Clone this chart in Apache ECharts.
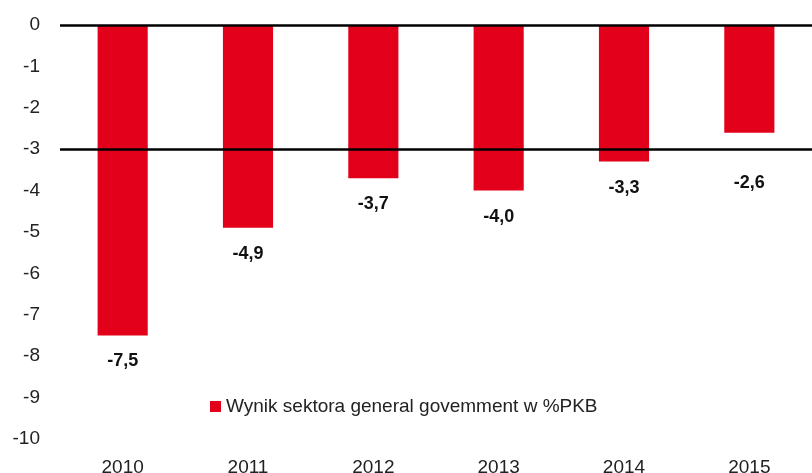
<!DOCTYPE html>
<html><head><meta charset="utf-8">
<script src="https://cdn.jsdelivr.net/npm/echarts@6/dist/echarts.min.js"></script>
<style>html,body{margin:0;padding:0;background:#fff}#c{width:812px;height:473px}</style>
</head><body><div id="c"></div>
<script>
const categories = ['2010','2011','2012','2013','2014','2015'];
const values = [-7.5, -4.9, -3.7, -4.0, -3.3, -2.6];
const seriesName = 'Wynik sektora general govemment w %PKB';
const refLines = [0, -3];

const font = 'Liberation Sans, Arial, sans-serif';
const chart = echarts.init(document.getElementById('c'));
chart.setOption({
  animation: false,
  backgroundColor: '#fff',
  grid: {left: 60, right: 0, top: 25, bottom: 34, outerBoundsMode: 'none', containLabel: false},
  legend: {
    left: 210, top: 397, padding: 0, icon: 'rect', itemWidth: 11, itemHeight: 11,
    textStyle: {fontFamily: font, fontSize: 19, color: '#222'},
    data: [seriesName]
  },
  xAxis: {
    type: 'category', data: categories,
    axisLine: {show: false}, axisTick: {show: false},
    axisLabel: {fontFamily: font, fontSize: 19, color: '#222', margin: 19}
  },
  yAxis: {
    type: 'value', min: -10, max: 0, interval: 1,
    splitLine: {show: false}, axisLine: {show: false}, axisTick: {show: false},
    axisLabel: {fontFamily: font, fontSize: 19, color: '#222', margin: 20}
  },
  series: [{
    name: seriesName, type: 'bar', barWidth: '40%',
    itemStyle: {color: '#e2001a'},
    data: values.map((v, i) => i === values.length - 1 ? {value: v, label: {offset: [0, 24]}} : v),
    label: {
      show: true, position: 'bottom', distance: 17,
      fontFamily: font, fontSize: 18, fontWeight: 'bold', color: '#111',
      formatter: p => p.value.toFixed(1).replace('.', ',')
    },
    markLine: {
      silent: true, symbol: 'none', label: {show: false},
      lineStyle: {color: '#000', width: 2.5, type: 'solid'},
      data: refLines.map(v => ({yAxis: v}))
    }
  }]
});
</script></body></html>
